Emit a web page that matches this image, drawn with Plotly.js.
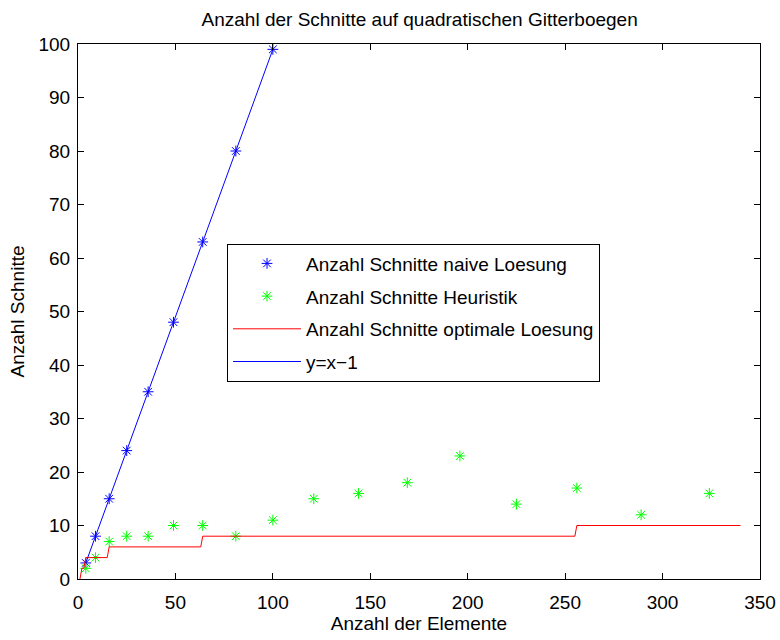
<!DOCTYPE html>
<html>
<head>
<meta charset="utf-8">
<script src="https://cdn.plot.ly/plotly-3.0.1.min.js"></script>
<style>html,body{margin:0;padding:0;background:#fff;}#chart{width:780px;height:640px;}</style>
</head>
<body>
<div id="chart"></div>
<script>
// Naive solution points
const naiveX = [4, 9, 16, 25, 36, 49, 64, 81, 100];
const naiveY = [3, 8, 15, 24, 35, 48, 63, 80, 99];
// Heuristic points
const heurX = [4, 9, 16, 25, 36, 49, 64, 81, 100, 121, 144, 169, 196, 225, 256, 289, 324];
const heurY = [2, 4, 7, 8, 8, 10, 10, 8, 11, 15, 16, 18, 23, 14, 17, 12, 16];
// Optimal solution step line
const optX = [1, 2, 3, 4, 15, 16, 63, 64, 255, 256, 340];
const optY = [0, 2, 2, 4, 4, 6, 6, 8, 8, 10, 10];
// Reference line y = x - 1
const refX = [4, 100];
const refY = [3, 99];

const labels = ["Anzahl Schnitte naive Loesung", "Anzahl Schnitte Heuristik", "Anzahl Schnitte optimale Loesung", "y=x\u22121"];
const xTicks = [0, 50, 100, 150, 200, 250, 300, 350];
const yTicks = [0, 10, 20, 30, 40, 50, 60, 70, 80, 90, 100];

const FONT = "Liberation Sans, Arial, Helvetica, sans-serif";
const FS = 19;

const traces = [
  {x: naiveX, y: naiveY, mode: 'markers', name: labels[0], legendgroup: 'a',
   marker: {symbol: 'asterisk-open', size: 9, color: '#0000ff', line: {color: '#0000ff', width: 1}}},
  {x: heurX, y: heurY, mode: 'markers', name: labels[1], legendgroup: 'b',
   marker: {symbol: 'asterisk-open', size: 9, color: '#00ff00', line: {color: '#00ff00', width: 1}}},
  {x: optX, y: optY, mode: 'lines', name: labels[2], legendgroup: 'c',
   line: {color: '#ff0000', width: 1}},
  {x: refX, y: refY, mode: 'lines', name: labels[3], legendgroup: 'd',
   line: {color: '#0000ff', width: 1}}
];

const axisCommon = {
  showline: true, linecolor: '#000', linewidth: 1, mirror: 'ticks',
  ticks: 'inside', ticklen: 6, tickcolor: '#000', showgrid: false, zeroline: false,
  tickfont: {family: FONT, size: FS, color: '#000'}
};

const layout = {
  width: 780, height: 640,
  paper_bgcolor: '#fff', plot_bgcolor: '#fff',
  margin: {l: 78, r: 20, t: 44, b: 61},
  title: {text: 'Anzahl der Schnitte auf quadratischen Gitterboegen',
          font: {family: FONT, size: FS, color: '#000'},
          x: 0.538, xref: 'container', xanchor: 'center', y: 1 - 19/640, yref: 'container', yanchor: 'middle'},
  xaxis: Object.assign({}, axisCommon, {range: [0, 350], tickvals: xTicks, ticklabelstandoff: 6,
          title: {text: 'Anzahl der Elemente', font: {family: FONT, size: FS, color: '#000'}, standoff: 0}}),
  yaxis: Object.assign({}, axisCommon, {range: [0, 100], tickvals: yTicks, ticklabelstandoff: 3,
          title: {text: 'Anzahl Schnitte', font: {family: FONT, size: FS, color: '#000'}, standoff: 8}}),
  showlegend: true,
  legend: {x: 0.2185, y: 0.627, xanchor: 'left', yanchor: 'top',
           bgcolor: '#fff', bordercolor: '#000', borderwidth: 1,
           font: {family: FONT, size: FS, color: '#000'},
           itemwidth: 68,
           traceorder: 'grouped', tracegroupgap: 5}
};

Plotly.newPlot('chart', traces, layout, {displayModeBar: false, staticPlot: true});
</script>
</body>
</html>
